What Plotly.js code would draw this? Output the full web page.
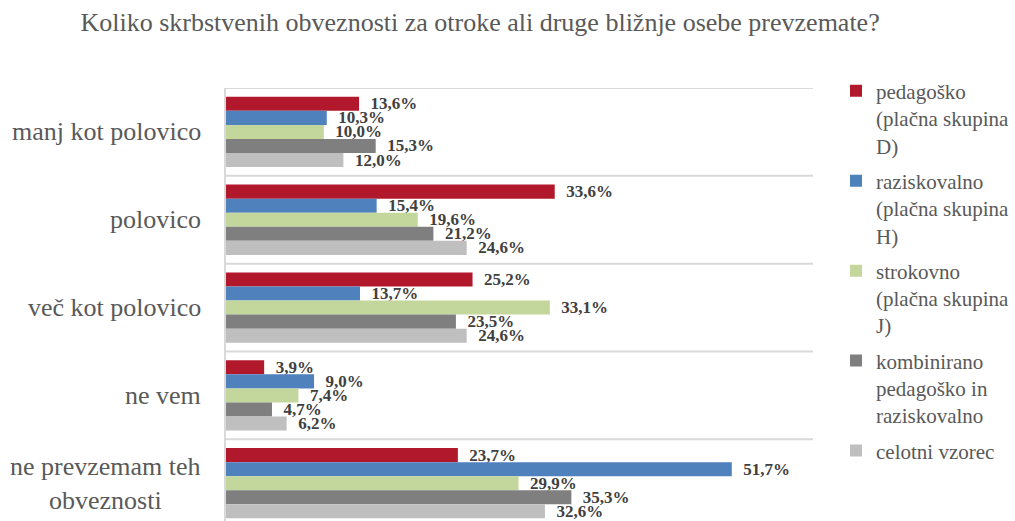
<!DOCTYPE html>
<html><head><meta charset="utf-8">
<script src="https://cdn.plot.ly/plotly-3.0.1.min.js"></script>
<style>html,body{margin:0;padding:0;background:#fff}</style>
</head><body>
<div id="chart" style="width:1015px;height:521px"></div>
<script>
const categories = ["manj kot polovico", "polovico", "več kot polovico", "ne vem", "ne prevzemam teh<br>obveznosti"];
const seriesNames = ["pedagoško<br>(plačna skupina<br>D)", "raziskovalno<br>(plačna skupina<br>H)", "strokovno<br>(plačna skupina<br>J)", "kombinirano<br>pedagoško in<br>raziskovalno", "celotni vzorec"];
const pedagosko = [13.6, 33.6, 25.2, 3.9, 23.7];
const raziskovalno = [10.3, 15.4, 13.7, 9.0, 51.7];
const strokovno = [10.0, 19.6, 33.1, 7.4, 29.9];
const kombinirano = [15.3, 21.2, 23.5, 4.7, 35.3];
const celotni = [12.0, 24.6, 24.6, 6.2, 32.6];
const colors = ["#B2182B", "#4F81BD", "#C3D69B", "#7F7F7F", "#BFBFBF"];

const allSeries = [pedagosko, raziskovalno, strokovno, kombinirano, celotni];
const serif = "'Liberation Serif'";
const idx = categories.map((c, i) => i);

const traces = allSeries.map((vals, s) => ({
  type: "bar",
  orientation: "h",
  name: seriesNames[s],
  legendgroup: "g" + s,
  x: vals,
  y: idx,
  marker: {color: colors[s]},
  text: vals.map(v => "\u00a0\u00a0" + v.toFixed(1).replace(".", ",") + "%"),
  textposition: "outside",
  constraintext: "none",
  cliponaxis: false,
  textfont: {family: serif, size: 17, color: "#404040", weight: "bold"},
  hoverinfo: "none"
}));

const shapes = [];
for (let i = 0; i <= categories.length; i++) {
  shapes.push({type: "line", xref: "paper", x0: 0, x1: 1, yref: "y", y0: i - 0.5, y1: i - 0.5,
    line: {color: "#D9D9D9", width: 2}, layer: "below"});
}

const annotations = categories.map((c, i) => ({
  text: c, xref: "paper", x: -0.04, xanchor: "right", yref: "y", y: i, yanchor: "middle",
  showarrow: false, align: "center",
  font: {family: serif, size: 26, color: "#595959"}
}));

const layout = {
  width: 1015, height: 521,
  margin: {l: 226, r: 200, t: 88, b: 0},
  paper_bgcolor: "#fff", plot_bgcolor: "#fff",
  font: {family: serif},
  title: {text: "Koliko skrbstvenih obveznosti za otroke ali druge bližnje osebe prevzemate?",
    x: 0.473, xanchor: "center", y: 0.958, yanchor: "middle",
    font: {family: serif, size: 26, color: "#595959"}},
  barmode: "group",
  bargap: 0.2,
  bargroupgap: 0,
  xaxis: {range: [0, 60], showgrid: false, zeroline: false, showticklabels: false, ticks: "", showline: false},
  yaxis: {range: [4.43, -0.5], showgrid: false, zeroline: false, showticklabels: false, ticks: "",
    showline: true, linecolor: "#D9D9D9", linewidth: 2},
  showlegend: true,
  legend: {x: 1.04, xanchor: "left", y: 1.04, yanchor: "top", valign: "top", maxheight: 1,
    font: {family: serif, size: 21, color: "#595959"}, itemwidth: 30, tracegroupgap: 5},
  shapes: shapes,
  annotations: annotations
};

Plotly.newPlot("chart", traces, layout, {displayModeBar: false, staticPlot: true});
</script>
</body></html>
